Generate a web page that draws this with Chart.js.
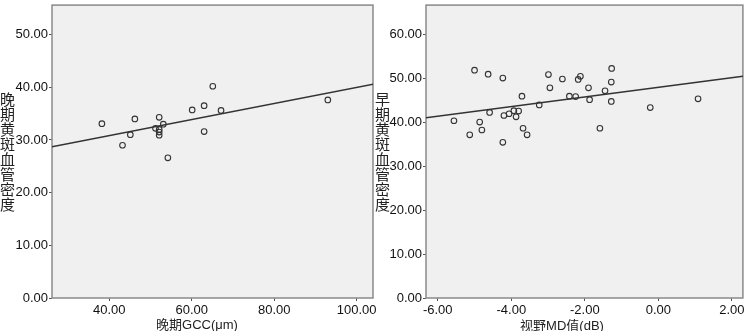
<!DOCTYPE html>
<html>
<head>
<meta charset="utf-8">
<script src="https://cdn.jsdelivr.net/npm/chart.js@4.4.1/dist/chart.umd.min.js"></script>
<style>
  html, body { margin: 0; padding: 0; background: #ffffff; }
  #wrap { position: relative; width: 748px; height: 331px; overflow: hidden; }
  canvas { position: absolute; top: 0; }
  #leftChart { left: 0; }
  #rightChart { left: 374px; }
  .ytitle {
    position: absolute; top: 92px;
    writing-mode: vertical-rl; text-orientation: upright;
    font: 15px "Noto Sans CJK SC", sans-serif; line-height: 15px; color: #222;
  }
  .xtitle {
    position: absolute; transform: translate(-50%, -50%); white-space: nowrap;
    font: 13px "Liberation Sans", "Noto Sans CJK SC", sans-serif; color: #222;
  }
</style>
</head>
<body>
<div id="wrap">
  <canvas id="leftChart" width="380" height="331"></canvas>
  <canvas id="rightChart" width="374" height="331"></canvas>
  <div class="ytitle" style="left:0px">晚期黄斑血管密度</div>
  <div class="ytitle" style="left:375px">早期黄斑血管密度</div>
  <div class="xtitle" style="left:197px; top:323px">晚期GCC(μm)</div>
  <div class="xtitle" style="left:562px; top:324px">视野MD值(dB)</div>
</div>
<script>
// Left panel: late GCC vs late macular vessel density
const leftGccX = [38.2, 43.2, 45.1, 46.2, 51.2, 52.1, 52.1, 52.1, 52.1, 53.1, 54.2, 60.1, 63.0, 63.0, 65.1, 67.1, 93.0];
const leftDensityY = [33.1, 29.0, 31.0, 34.0, 32.2, 34.3, 32.0, 31.5, 30.9, 33.0, 26.6, 35.7, 36.5, 31.6, 40.2, 35.6, 37.6];
const leftFitX = [26.1, 104.0];
const leftFitY = [28.7, 40.6];
const leftXTicks = [40, 60, 80, 100];
const leftYTicks = [0, 10, 20, 30, 40, 50];

// Right panel: visual field MD vs early macular vessel density
const rightMdX = [-5.56, -5.13, -5.00, -4.86, -4.80, -4.63, -4.59, -4.23, -4.23, -4.20, -4.06, -3.93, -3.87, -3.80, -3.71, -3.68, -3.57,
  -3.24, -2.99, -2.95, -2.61, -2.42, -2.25, -2.18, -2.12, -1.90, -1.87, -1.59, -1.45, -1.27, -1.28, -1.28, -0.22, 1.08];
const rightDensityY = [40.3, 37.1, 51.8, 40.0, 38.2, 50.9, 42.2, 50.0, 35.4, 41.5, 41.9, 42.6, 41.2, 42.5, 45.9, 38.6, 37.1,
  43.9, 50.8, 47.8, 49.8, 45.9, 45.8, 49.7, 50.4, 47.8, 45.1, 38.6, 47.1, 52.2, 49.1, 44.7, 43.3, 45.3];
const rightFitX = [-6.32, 2.30];
const rightFitY = [41.0, 50.4];
const rightXTicks = [-6, -4, -2, 0, 2];
const rightYTicks = [0, 10, 20, 30, 40, 50, 60];

const toPoints = (xs, ys) => xs.map((x, i) => ({ x, y: ys[i] }));

// gray plot box like SPSS
const plotBox = {
  id: 'plotBox',
  beforeDatasetsDraw(chart) {
    const { ctx, chartArea: a } = chart;
    ctx.save();
    ctx.fillStyle = '#f0f0f0';
    ctx.fillRect(a.left, a.top, a.right - a.left, a.bottom - a.top);
    ctx.strokeStyle = '#8a8a8a';
    ctx.lineWidth = 1.5;
    ctx.strokeRect(a.left, a.top, a.right - a.left, a.bottom - a.top);
    ctx.restore();
  }
};

function makeScatter(canvasId, xs, ys, fitX, fitY, xRange, yRange, xTicks, yTicks, padding) {
  const ctx = document.getElementById(canvasId).getContext('2d');
  const tickFont = { family: '"Liberation Sans", sans-serif', size: 13 };
  return new Chart(ctx, {
    type: 'scatter',
    data: {
      datasets: [
        {
          data: toPoints(xs, ys),
          pointStyle: 'circle',
          pointRadius: 2.8,
          pointBackgroundColor: 'rgba(0,0,0,0)',
          pointBorderColor: '#333',
          pointBorderWidth: 1.1
        },
        {
          type: 'line',
          data: toPoints(fitX, fitY),
          borderColor: '#333',
          borderWidth: 1.5,
          pointRadius: 0,
          fill: false
        }
      ]
    },
    options: {
      responsive: false,
      animation: false,
      layout: { padding },
      plugins: { legend: { display: false }, tooltip: { enabled: false } },
      scales: {
        x: {
          type: 'linear', min: xRange[0], max: xRange[1],
          afterBuildTicks: s => { s.ticks = xTicks.map(v => ({ value: v })); },
          afterFit: s => { s.height = 33; s.paddingLeft = 0; s.paddingRight = 0; },
          border: { display: false },
          grid: { drawOnChartArea: false, tickLength: 3, color: '#555' },
          ticks: { color: '#111', font: tickFont, padding: 2, maxRotation: 0, autoSkip: false,
            callback: v => v.toFixed(2) }
        },
        y: {
          type: 'linear', min: yRange[0], max: yRange[1],
          afterBuildTicks: s => { s.ticks = yTicks.map(v => ({ value: v })); },
          afterFit: s => { s.width = 52; s.paddingTop = 0; s.paddingBottom = 0; },
          border: { display: false },
          grid: { drawOnChartArea: false, tickLength: 3, color: '#555' },
          ticks: { color: '#111', font: tickFont, padding: 1, autoSkip: false,
            callback: v => v.toFixed(2) }
        }
      }
    },
    plugins: [plotBox]
  });
}

makeScatter('leftChart', leftGccX, leftDensityY, leftFitX, leftFitY,
  [26.1, 103.96], [0, 55.6], leftXTicks, leftYTicks, { top: 4, right: 7, left: 0, bottom: 0 });
makeScatter('rightChart', rightMdX, rightDensityY, rightFitX, rightFitY,
  [-6.32, 2.30], [0, 66.6], rightXTicks, rightYTicks, { top: 2, right: 3, left: 0, bottom: 0 });
</script>
</body>
</html>
